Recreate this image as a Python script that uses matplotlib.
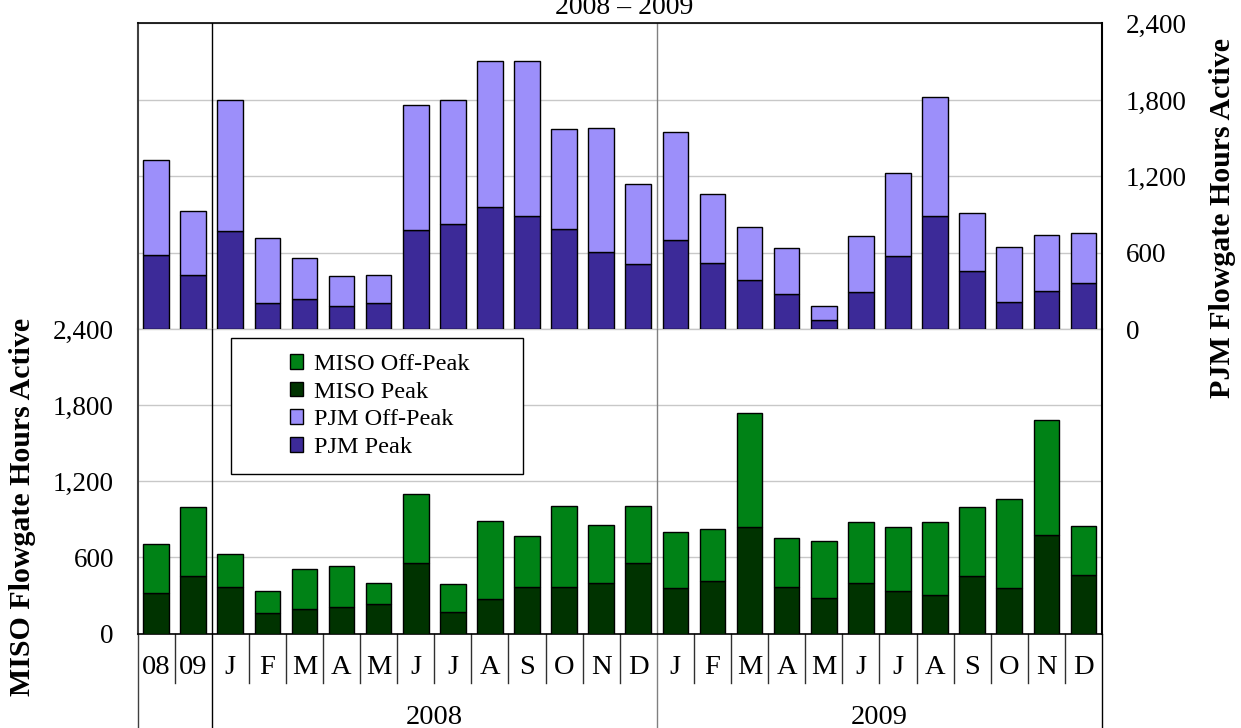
import matplotlib
matplotlib.use("Agg")
import matplotlib.pyplot as plt
from matplotlib.patches import Patch, Rectangle
from matplotlib.ticker import FuncFormatter, FixedLocator
import numpy as np

plt.rcParams['font.family'] = ['Liberation Serif', 'DejaVu Serif']

# Category labels: two annual totals then months
categories = ['08', '09',
              'J', 'F', 'M', 'A', 'M', 'J', 'J', 'A', 'S', 'O', 'N', 'D',
              'J', 'F', 'M', 'A', 'M', 'J', 'J', 'A', 'S', 'O', 'N', 'D']
years = ['2008', '2009']

# PJM flowgate hours active (top panel, right axis)
pjm_peak = [582, 425, 769, 207, 241, 184, 207, 777, 826, 963, 887, 790, 609, 512,
            698, 522, 388, 278, 73, 291, 572, 887, 454, 215, 304, 367]
pjm_offpeak = [743, 501, 1033, 512, 320, 231, 221, 986, 974, 1141, 1217, 779, 970, 632,
               850, 538, 417, 357, 113, 438, 653, 936, 462, 428, 438, 386]

# MISO flowgate hours active (bottom panel, left axis)
miso_peak = [318, 452, 365, 158, 197, 210, 234, 560, 173, 271, 365, 365, 402, 560,
             360, 415, 838, 365, 281, 402, 339, 305, 452, 360, 781, 465]
miso_offpeak = [389, 547, 266, 181, 315, 326, 168, 539, 216, 620, 402, 644, 452, 449,
                444, 413, 904, 392, 452, 478, 499, 575, 547, 699, 901, 386]

yticks = [0, 600, 1200, 1800, 2400]

C_MISO_OFF = '#008216'
C_MISO_PK = '#003300'
C_PJM_OFF = '#9c8ffa'
C_PJM_PK = '#3c2a98'
GRID = '#c8c8c8'

W, H = 1241, 728
fig = plt.figure(figsize=(W / 100, H / 100), dpi=100)

x_left, x_right = 137.5, 1102
y_top, y_mid, y_bot = 23.5, 329.3, 633.5


def fx(px):
    return px / W


def fy(py):
    return 1 - py / H


ax_top = fig.add_axes([fx(x_left), fy(y_mid), fx(x_right - x_left), (y_mid - y_top) / H])
ax_bot = fig.add_axes([fx(x_left), fy(y_bot), fx(x_right - x_left), (y_bot - y_mid) / H],
                      sharex=ax_top)

x = np.arange(len(categories))
bw = 0.69
edge = dict(edgecolor='black', linewidth=1.0)

ax_top.bar(x, pjm_peak, bw, color=C_PJM_PK, **edge, zorder=3)
ax_top.bar(x, pjm_offpeak, bw, bottom=pjm_peak, color=C_PJM_OFF, **edge, zorder=3)
ax_bot.bar(x, miso_peak, bw, color=C_MISO_PK, **edge, zorder=3)
ax_bot.bar(x, miso_offpeak, bw, bottom=miso_peak, color=C_MISO_OFF, **edge, zorder=3)

fmt = FuncFormatter(lambda v, p: f'{int(v):,}')
for ax in (ax_top, ax_bot):
    ax.set_xlim(-0.5, len(categories) - 0.5)
    ax.set_ylim(0, 2400)
    ax.yaxis.set_major_locator(FixedLocator(yticks))
    ax.yaxis.set_major_formatter(fmt)
    ax.yaxis.grid(True, color=GRID, linewidth=1.0, zorder=0)
    ax.set_axisbelow(True)
    ax.tick_params(axis='x', length=0, labelbottom=False, labeltop=False)
    ax.tick_params(axis='y', length=0, labelsize=19.5)
    ax.spines['left'].set_color('#404040')
    ax.spines['left'].set_linewidth(1.5)
    ax.spines['right'].set_color('black')
    ax.spines['right'].set_linewidth(1.5)
    # year dividers inside the plotting area
    ax.axvline(1.5, color='black', linewidth=1.0, zorder=2)
    ax.axvline(13.5, color='#808080', linewidth=1.0, zorder=2)

ax_top.yaxis.tick_right()
ax_top.tick_params(axis='y', pad=17)
ax_top.spines['bottom'].set_color(GRID)
ax_top.spines['bottom'].set_linewidth(1.0)
ax_top.spines['top'].set_linewidth(1.2)

ax_bot.tick_params(axis='y', pad=17)
ax_bot.spines['top'].set_visible(False)
ax_bot.spines['bottom'].set_linewidth(1.2)

# Category axis drawn as a table of cells under the bottom panel
panel_h = y_bot - y_mid
short_y = -(683 - y_bot) / panel_h
long_y = -(H - y_bot) / panel_h
label_y = -(668 - y_bot) / panel_h
year_y = -(717 - y_bot) / panel_h
trans = ax_bot.get_xaxis_transform()

long_edges = {-0.5: '#404040', 1.5: 'black', 13.5: '#808080', len(categories) - 0.5: 'black'}
for k in range(len(categories) + 1):
    xe = k - 0.5
    if xe in long_edges:
        ax_bot.plot([xe, xe], [0, long_y], color=long_edges[xe], lw=1.0,
                    transform=trans, clip_on=False)
    else:
        ax_bot.plot([xe, xe], [0, short_y], color='#303030', lw=1.0,
                    transform=trans, clip_on=False)

for xi, lab in zip(x, categories):
    ax_bot.text(xi, label_y, lab, transform=trans, ha='center', va='center', fontsize=20.5)

ax_bot.text(7.5, year_y, years[0], transform=trans, ha='center', va='center', fontsize=20.5)
ax_bot.text(19.5, year_y, years[1], transform=trans, ha='center', va='center', fontsize=20.5)

# Titles and axis labels
fig.text(fx(624), fy(14), '2008 \u2013 2009', ha='center', va='baseline', fontsize=20)
fig.text(fx(23), fy(507), 'MISO Flowgate Hours Active', rotation=90, ha='center',
         va='center', fontsize=21.5, fontweight='bold')
fig.text(fx(1223), fy(218), 'PJM Flowgate Hours Active', rotation=90, ha='center',
         va='center', fontsize=21.5, fontweight='bold')

# Legend with its own box
box = Rectangle((fx(231), fy(474)), fx(523 - 231), (474 - 338) / H, transform=fig.transFigure,
                facecolor='white', edgecolor='black', linewidth=1.0, zorder=5)
fig.patches.append(box)
handles = [Patch(facecolor=C_MISO_OFF, edgecolor='black', label='MISO Off-Peak'),
           Patch(facecolor=C_MISO_PK, edgecolor='black', label='MISO Peak'),
           Patch(facecolor=C_PJM_OFF, edgecolor='black', label='PJM Off-Peak'),
           Patch(facecolor=C_PJM_PK, edgecolor='black', label='PJM Peak')]
leg = fig.legend(handles=handles, loc='center', bbox_to_anchor=(fx(380), fy(406)),
                 frameon=False, fontsize=17.5, handlelength=0.55, handleheight=0.55,
                 handletextpad=0.45, labelspacing=0.28, borderpad=0, borderaxespad=0)
leg.set_zorder(6)

fig.savefig('out.png', dpi=100)
